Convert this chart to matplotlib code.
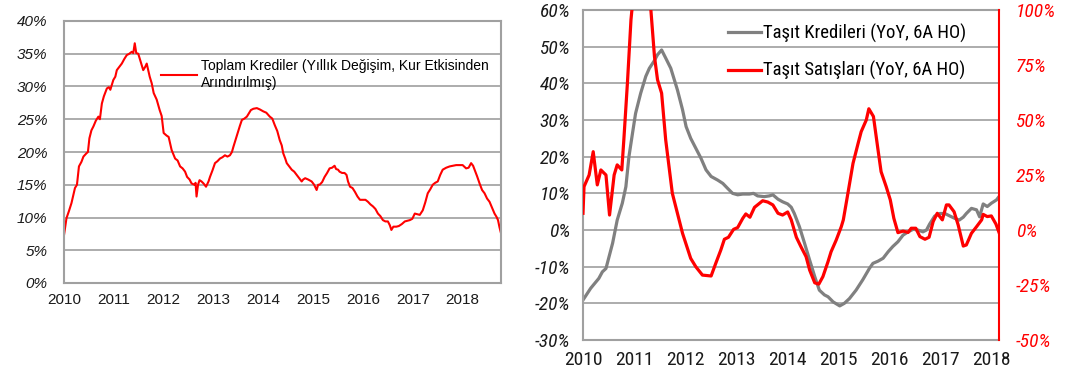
import matplotlib
matplotlib.use("Agg")
import matplotlib.pyplot as plt
from matplotlib import font_manager
from matplotlib.ticker import FuncFormatter

plt.rcParams['font.family'] = ['Liberation Sans', 'DejaVu Sans']
names = {f.name for f in font_manager.fontManager.ttflist}
NARROW = 'Liberation Sans'
for cand in ['Liberation Sans Narrow', 'Arial Narrow', 'Roboto Condensed', 'PT Sans Narrow',
             'Archivo Narrow', 'Open Sans Condensed']:
    if cand in names:
        NARROW = cand
        break

# ---------------- data ----------------
total_t = [2010.00, 2010.05, 2010.10, 2010.15, 2010.22, 2010.26, 2010.30, 2010.35, 2010.39,
           2010.45, 2010.48, 2010.51, 2010.55, 2010.59, 2010.64, 2010.69, 2010.72, 2010.76,
           2010.80, 2010.86, 2010.90, 2010.93, 2010.99, 2011.03, 2011.06, 2011.10, 2011.16,
           2011.21, 2011.26, 2011.31, 2011.36, 2011.39, 2011.42, 2011.45, 2011.49, 2011.53,
           2011.59, 2011.63, 2011.66, 2011.72, 2011.76, 2011.80, 2011.86, 2011.92, 2011.96,
           2012.00, 2012.06, 2012.10, 2012.16, 2012.23, 2012.28, 2012.33, 2012.38, 2012.43,
           2012.47, 2012.52, 2012.56, 2012.62, 2012.64, 2012.66, 2012.69, 2012.72, 2012.76,
           2012.80, 2012.85, 2012.90, 2012.93, 2012.98, 2013.03, 2013.08, 2013.13, 2013.18,
           2013.23, 2013.28, 2013.33, 2013.37, 2013.40, 2013.44, 2013.48, 2013.53, 2013.57,
           2013.62, 2013.67, 2013.71, 2013.75, 2013.80, 2013.87, 2013.93, 2014.00, 2014.06,
           2014.13, 2014.18, 2014.23, 2014.28, 2014.33, 2014.37, 2014.40, 2014.44, 2014.47,
           2014.52, 2014.57, 2014.62, 2014.67, 2014.72, 2014.77, 2014.80, 2014.84, 2014.90,
           2014.97, 2015.02, 2015.07, 2015.10, 2015.13, 2015.18, 2015.23, 2015.28, 2015.33,
           2015.38, 2015.43, 2015.46, 2015.50, 2015.53, 2015.58, 2015.63, 2015.67, 2015.70,
           2015.74, 2015.79, 2015.84, 2015.89, 2015.94, 2016.00, 2016.05, 2016.10, 2016.15,
           2016.20, 2016.25, 2016.30, 2016.35, 2016.40, 2016.45, 2016.50, 2016.54, 2016.57,
           2016.61, 2016.67, 2016.72, 2016.78, 2016.84, 2016.89, 2016.94, 2016.99, 2017.04,
           2017.09, 2017.14, 2017.20, 2017.25, 2017.30, 2017.35, 2017.40, 2017.45, 2017.50,
           2017.55, 2017.60, 2017.67, 2017.74, 2017.80, 2017.87, 2017.93, 2018.00, 2018.07,
           2018.12, 2018.17, 2018.21, 2018.24, 2018.29, 2018.34, 2018.39, 2018.44, 2018.49,
           2018.54, 2018.59, 2018.64, 2018.68, 2018.71, 2018.74, 2018.77]
total_v = [7.3, 9.9, 11.0, 12.2, 14.5, 15.0, 17.8, 18.5, 19.3,
           19.8, 20.0, 22.1, 23.3, 23.9, 24.8, 25.4, 25.0, 27.4,
           28.5, 29.7, 29.9, 29.5, 31.0, 31.5, 32.5, 32.9, 33.5,
           34.2, 34.8, 35.0, 35.3, 35.1, 36.6, 35.1, 35.0, 34.0,
           32.5, 33.0, 33.5, 31.5, 30.5, 29.0, 28.0, 26.4, 25.5,
           22.9, 22.5, 22.3, 20.3, 19.0, 18.7, 17.8, 17.5, 17.0,
           16.2, 15.8, 15.2, 15.0, 15.3, 13.2, 15.0, 15.7, 15.5,
           15.2, 14.7, 15.5, 16.2, 17.2, 18.3, 18.6, 19.0, 19.2,
           19.5, 19.3, 19.5, 20.0, 20.8, 21.8, 22.8, 24.0, 24.9,
           25.1, 25.4, 25.9, 26.4, 26.6, 26.7, 26.5, 26.2, 26.0,
           25.4, 25.1, 24.1, 23.2, 21.8, 21.0, 19.8, 19.0, 18.3,
           17.8, 17.3, 17.0, 16.5, 16.0, 15.5, 15.8, 16.0, 15.8,
           15.5, 15.0, 14.2, 15.0, 15.0, 15.4, 16.2, 16.8, 17.5,
           17.6, 17.9, 17.4, 17.3, 17.0, 16.8, 16.8, 16.5, 15.5,
           14.7, 14.5, 13.9, 13.2, 12.7, 12.7, 12.7, 12.4, 12.0,
           11.7, 11.3, 10.6, 10.2, 9.6, 9.4, 9.4, 8.8, 8.1,
           8.6, 8.6, 8.7, 9.0, 9.4, 9.5, 9.6, 9.8, 10.6,
           10.5, 10.4, 11.1, 12.3, 13.7, 14.3, 15.0, 15.3, 15.5,
           16.5, 17.3, 17.6, 17.8, 17.9, 18.0, 18.0, 18.0, 17.5,
           17.6, 18.3, 17.9, 17.3, 16.3, 15.2, 14.2, 13.7, 12.9,
           12.4, 11.5, 10.6, 10.1, 9.6, 8.5, 7.6]

loan_t = [2010.00, 2010.15, 2010.31, 2010.38, 2010.45, 2010.51, 2010.58, 2010.67, 2010.77,
          2010.84, 2010.90, 2010.97, 2011.03, 2011.13, 2011.23, 2011.30, 2011.39, 2011.46,
          2011.54, 2011.62, 2011.72, 2011.85, 2011.95, 2012.02, 2012.11, 2012.21, 2012.31,
          2012.41, 2012.51, 2012.64, 2012.74, 2012.83, 2012.93, 2013.03, 2013.13, 2013.26,
          2013.34, 2013.42, 2013.55, 2013.65, 2013.72, 2013.82, 2013.91, 2014.01, 2014.08,
          2014.14, 2014.24, 2014.34, 2014.44, 2014.54, 2014.63, 2014.73, 2014.80, 2014.90,
          2015.03, 2015.12, 2015.22, 2015.35, 2015.48, 2015.61, 2015.68, 2015.78, 2015.88,
          2015.98, 2016.07, 2016.17, 2016.27, 2016.37, 2016.47, 2016.56, 2016.66, 2016.73,
          2016.79, 2016.89, 2016.99, 2017.09, 2017.19, 2017.28, 2017.37, 2017.45, 2017.51,
          2017.61, 2017.71, 2017.77, 2017.84, 2017.92, 2018.00, 2018.10, 2018.15]
loan_v = [-19.1, -15.9, -13.2, -11.4, -10.5, -7.3, -3.6, 2.7, 7.3,
          11.8, 20.0, 26.4, 31.8, 37.3, 41.9, 44.1, 46.0, 47.8,
          49.1, 46.9, 44.1, 38.2, 32.8, 28.2, 25.0, 22.3, 19.6,
          16.4, 14.6, 13.6, 12.7, 11.4, 10.0, 9.6, 9.8, 9.8,
          10.0, 9.3, 9.1, 9.3, 9.6, 8.4, 7.7, 7.1, 6.2,
          4.5, 0.9, -3.6, -8.2, -12.7, -16.4, -17.7, -18.2, -19.6,
          -20.7, -20.0, -18.7, -16.4, -13.6, -10.5, -9.1, -8.5, -7.7,
          -5.9, -4.5, -3.2, -1.4, -0.5, 0.2, 0.0, -0.5, 0.0,
          1.6, 3.8, 4.5, 4.5, 3.8, 3.2, 2.7, 3.5, 4.5,
          5.9, 5.5, 3.6, 7.1, 6.4, 7.3, 8.2, 9.1]

sales_t = [2010.00, 2010.02, 2010.12, 2010.20, 2010.28, 2010.35, 2010.45, 2010.52, 2010.61,
           2010.67, 2010.76, 2010.80, 2010.87, 2010.94, 2011.02, 2011.12, 2011.22, 2011.33,
           2011.40, 2011.46, 2011.54, 2011.62, 2011.75, 2011.85, 2011.95, 2012.11, 2012.21,
           2012.34, 2012.51, 2012.60, 2012.70, 2012.77, 2012.85, 2012.95, 2013.03, 2013.13,
           2013.19, 2013.27, 2013.36, 2013.44, 2013.52, 2013.62, 2013.72, 2013.82, 2013.91,
           2014.01, 2014.08, 2014.18, 2014.27, 2014.37, 2014.44, 2014.54, 2014.62, 2014.70,
           2014.80, 2014.86, 2014.96, 2015.06, 2015.10, 2015.19, 2015.29, 2015.39, 2015.45,
           2015.55, 2015.60, 2015.69, 2015.78, 2015.84, 2015.94, 2016.02, 2016.09, 2016.17,
           2016.27, 2016.37, 2016.43, 2016.52, 2016.60, 2016.70, 2016.78, 2016.86, 2016.94,
           2017.04, 2017.12, 2017.17, 2017.27, 2017.35, 2017.45, 2017.51, 2017.61, 2017.71,
           2017.81, 2017.84, 2017.92, 2018.00, 2018.09, 2018.15]
sales_v = [7.6, 19.7, 25.0, 35.6, 20.5, 27.3, 25.0, 6.8, 25.0,
           29.6, 27.3, 41.0, 66.7, 95.6, 115.0, 125.0, 120.0, 100.0,
           78.9, 68.3, 62.2, 41.0, 16.7, 7.6, -1.5, -12.9, -16.7,
           -20.5, -20.9, -15.2, -9.1, -4.2, -3.3, 0.3, 1.1, 5.3,
           7.3, 5.8, 10.3, 11.8, 13.3, 12.7, 11.4, 7.6, 6.8,
           8.2, 4.6, -3.3, -7.6, -12.1, -18.2, -24.0, -24.6, -21.2,
           -14.4, -9.9, -4.6, 1.5, 4.6, 16.7, 30.3, 39.4, 44.7,
           50.0, 55.1, 51.6, 36.4, 26.5, 19.7, 13.7, 5.3, -1.2,
           -0.5, -1.1, 0.8, 0.8, -3.0, -4.2, -3.3, 3.8, 7.6,
           4.6, 11.4, 11.4, 8.3, 2.3, -7.3, -6.8, -1.5, 1.5,
           4.6, 7.1, 6.1, 6.4, 2.7, -1.1]

years = [2010, 2011, 2012, 2013, 2014, 2015, 2016, 2017, 2018]
left_label = "Toplam Krediler (Yıllık Değişim, Kur Etkisinden\nArındırılmış)"
loan_label = "Taşıt Kredileri (YoY, 6A HO)"
sales_label = "Taşıt Satışları (YoY, 6A HO)"

RED = '#ff0000'
GRID = '#a6a6a6'
pct = FuncFormatter(lambda v, p: f"{v:.0f}%")

fig = plt.figure(figsize=(10.74, 3.77), dpi=100)

# ---------------- left chart ----------------
ax1 = fig.add_axes([64/1074, 1-283/377, 437/1074, 262/377])
ax1.plot(total_t, total_v, color=RED, lw=1.5, label=left_label)
ax1.set_xlim(2010.0, 2018.77)
ax1.set_ylim(0, 40)
ax1.set_yticks(range(0, 41, 5))
ax1.yaxis.set_major_formatter(pct)
ax1.set_xticks(years)
ax1.set_xticklabels([str(y) for y in years])
ax1.grid(axis='y', color=GRID, lw=1.3)
ax1.set_axisbelow(True)
for s in ax1.spines.values():
    s.set_color('#a0a0a0')
    s.set_linewidth(1.5)
ax1.tick_params(length=0, labelsize=11, colors='#1a1a1a')
ax1.tick_params(axis='y', pad=12)
ax1.tick_params(axis='x', pad=7)
for lbl in ax1.get_yticklabels():
    lbl.set_fontstyle('italic')
ax1.legend(loc='upper left', bbox_to_anchor=(0.205, 0.88), frameon=False,
           fontsize=10, handlelength=2.6, handletextpad=0.3, borderpad=0,
           labelspacing=0)

# ---------------- right chart ----------------
ax2 = fig.add_axes([583/1074, 1-340/377, 416/1074, 330/377])
ax3 = ax2.twinx()
l1, = ax2.plot(loan_t, loan_v, color='#808080', lw=2.3, label=loan_label)
l2, = ax3.plot(sales_t, sales_v, color=RED, lw=2.3, label=sales_label)
ax2.set_xlim(2010.0, 2018.15)
ax2.set_ylim(-30, 60)
ax3.set_ylim(-50, 100)
ax2.set_yticks(range(-30, 61, 10))
ax3.set_yticks(range(-50, 101, 25))
ax2.yaxis.set_major_formatter(pct)
ax3.yaxis.set_major_formatter(pct)
ax2.set_xticks(years)
ax2.set_xticklabels([str(y) for y in years])
ax2.grid(axis='y', color=GRID, lw=1.3)
ax2.set_axisbelow(True)
for s in ['left', 'bottom', 'top']:
    ax2.spines[s].set_color('#a0a0a0')
    ax2.spines[s].set_linewidth(1.5)
ax2.spines['right'].set_visible(False)
for s in ['left', 'bottom', 'top']:
    ax3.spines[s].set_visible(False)
ax3.spines['right'].set_color(RED)
ax3.spines['right'].set_linewidth(1.5)
ax2.tick_params(length=0, labelsize=14, colors='#1a1a1a')
ax2.tick_params(axis='y', pad=9)
ax2.tick_params(axis='x', pad=8)
ax3.tick_params(length=0, labelsize=14, colors=RED, pad=12)
for lbl in ax2.get_yticklabels() + ax3.get_yticklabels() + ax2.get_xticklabels():
    lbl.set_fontfamily([NARROW, 'DejaVu Sans'])
for lbl in ax2.get_yticklabels() + ax3.get_yticklabels():
    lbl.set_fontstyle('italic')
ax3.legend([l1, l2], [loan_label, sales_label], loc='upper left',
           bbox_to_anchor=(0.326, 0.988), frameon=False,
           prop={'family': [NARROW, 'DejaVu Sans'], 'size': 13.5},
           handlelength=1.75, handletextpad=0.1, labelspacing=1.0, borderpad=0)

fig.savefig('out.png', dpi=100)
